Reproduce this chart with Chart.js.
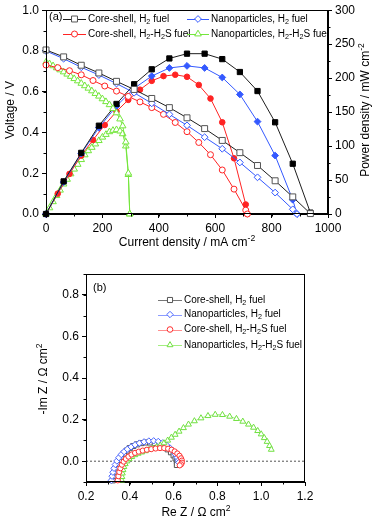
<!doctype html>
<html lang="en">
<head>
  <meta charset="utf-8">
  <title>Fuel cell performance and impedance</title>
  <script src="https://cdn.jsdelivr.net/npm/chart.js@4.4.0/dist/chart.umd.min.js"></script>
  <style>
    html, body { margin: 0; padding: 0; background: #fff; }
    #wrap { position: relative; width: 376px; height: 520px; }
    canvas { position: absolute; left: 0; }
    #perfChart { top: 0; }
    #eisChart { top: 255px; }
  </style>
</head>
<body>
  <div id="wrap">
    <canvas id="perfChart" width="376" height="255"></canvas>
    <canvas id="eisChart" width="376" height="265"></canvas>
  </div>

  <script>
    // ---- panel (a): I-V and power density curves ----
    var csH2Current = [0, 62.5, 125, 187.5, 250, 312.5, 375, 437.5, 500, 562.5, 625, 687.5, 750, 812.5, 875, 937.5];
    var csH2Voltage = [0.805, 0.771, 0.730, 0.692, 0.651, 0.611, 0.567, 0.522, 0.472, 0.419, 0.361, 0.301, 0.238, 0.163, 0.084, 0.002];
    var csH2Power = [0, 48, 90, 130, 162, 191, 213, 229, 236, 236, 228, 209, 181, 135, 74, 2];

    var npH2Current = [0, 62.5, 125, 187.5, 250, 312.5, 375, 437.5, 500, 562.5, 625, 687.5, 750, 812.5, 875, 890];
    var npH2Voltage = [0.800, 0.762, 0.720, 0.682, 0.640, 0.595, 0.543, 0.489, 0.435, 0.377, 0.320, 0.253, 0.180, 0.105, 0.023, 0];
    var npH2Power = [0, 47, 89, 127, 159, 185, 203, 215, 218, 215, 201, 176, 136, 86, 21, 0];

    var csH2SCurrent = [0, 41.7, 83.3, 125, 166.7, 208.3, 250, 291.7, 333.3, 375, 416.7, 458.3, 500, 541.7, 583.3, 625, 666.7, 708.3, 714];
    var csH2SVoltage = [0.731, 0.718, 0.703, 0.683, 0.655, 0.628, 0.603, 0.577, 0.550, 0.522, 0.489, 0.449, 0.404, 0.351, 0.291, 0.216, 0.122, 0.019, 0];
    var csH2SPower = [0, 30, 59, 86, 109, 131, 151, 168, 183, 196, 203, 205, 202, 190, 170, 135, 82, 14, 0];

    var npH2SCurrent = [0, 12.5, 25, 37.5, 50, 62.5, 75, 87.5, 100, 112.5, 125, 137.5, 150, 162.5, 175, 187.5, 200, 212.5, 225, 237.5, 250, 262.5, 272, 283, 292, 297];
    var npH2SVoltage = [0.745, 0.737, 0.727, 0.717, 0.707, 0.697, 0.686, 0.675, 0.664, 0.653, 0.641, 0.629, 0.617, 0.604, 0.591, 0.578, 0.565, 0.551, 0.536, 0.517, 0.496, 0.466, 0.432, 0.353, 0.200, 0];
    var npH2SPower = [0, 9, 18, 27, 35, 44, 51, 59, 66, 73, 80, 87, 93, 98, 103, 108, 113, 117, 121, 123, 124, 122, 118, 100, 58, 0];

    var currentTicks = [0, 200, 400, 600, 800, 1000];
    var voltageTicks = [0, 0.2, 0.4, 0.6, 0.8, 1.0];
    var powerTicks = [0, 50, 100, 150, 200, 250, 300];

    // ---- panel (b): impedance spectra ----
    var csH2Re = [0.322, 0.326, 0.331, 0.337, 0.344, 0.352, 0.362, 0.373, 0.386, 0.400, 0.416, 0.433, 0.452, 0.472, 0.493, 0.514, 0.535, 0.555, 0.573, 0.588, 0.600, 0.609, 0.615, 0.617, 0.615];
    var csH2Im = [-0.092, -0.070, -0.050, -0.030, -0.012, 0.005, 0.022, 0.037, 0.051, 0.063, 0.073, 0.081, 0.087, 0.090, 0.090, 0.087, 0.080, 0.070, 0.057, 0.043, 0.028, 0.013, 0.000, -0.010, -0.018];

    var npH2Re = [0.316, 0.319, 0.323, 0.328, 0.334, 0.341, 0.350, 0.361, 0.374, 0.389, 0.406, 0.424, 0.444, 0.465, 0.487, 0.509, 0.530, 0.550, 0.568, 0.584, 0.598, 0.609, 0.617, 0.622, 0.624];
    var npH2Im = [-0.092, -0.072, -0.053, -0.034, -0.016, 0.001, 0.017, 0.032, 0.046, 0.058, 0.069, 0.079, 0.087, 0.093, 0.097, 0.098, 0.095, 0.088, 0.077, 0.063, 0.048, 0.032, 0.017, 0.004, -0.006];

    var csH2SRe = [0.345, 0.348, 0.352, 0.357, 0.364, 0.372, 0.382, 0.394, 0.408, 0.424, 0.441, 0.459, 0.478, 0.498, 0.518, 0.538, 0.557, 0.575, 0.591, 0.605, 0.617, 0.627, 0.634, 0.638, 0.638, 0.634, 0.628];
    var csH2SIm = [-0.092, -0.072, -0.052, -0.034, -0.017, -0.002, 0.011, 0.022, 0.032, 0.040, 0.046, 0.051, 0.055, 0.058, 0.061, 0.063, 0.063, 0.060, 0.055, 0.047, 0.037, 0.026, 0.014, 0.003, -0.007, -0.015, -0.020];

    var npH2SRe = [0.363, 0.364, 0.366, 0.369, 0.373, 0.379, 0.387, 0.397, 0.409, 0.423, 0.438, 0.454, 0.471, 0.488, 0.505, 0.522, 0.539, 0.556, 0.573, 0.590, 0.607, 0.625, 0.645, 0.668, 0.695, 0.725, 0.757, 0.790, 0.823, 0.856, 0.887, 0.916, 0.942, 0.965, 0.984, 1.000, 1.014, 1.027, 1.038, 1.046];
    var npH2SIm = [-0.092, -0.075, -0.058, -0.042, -0.027, -0.013, 0.000, 0.011, 0.021, 0.030, 0.037, 0.043, 0.049, 0.055, 0.061, 0.068, 0.076, 0.087, 0.100, 0.114, 0.128, 0.143, 0.160, 0.177, 0.193, 0.207, 0.218, 0.224, 0.223, 0.215, 0.204, 0.191, 0.177, 0.162, 0.146, 0.130, 0.112, 0.094, 0.074, 0.056];

    var zeroLineRe = [0.2, 1.2];
    var reTicks = [0.2, 0.4, 0.6, 0.8, 1.0, 1.2];
    var imTicks = [0, 0.2, 0.4, 0.6, 0.8];

    var FONT = '"Liberation Sans", Arial, Helvetica, sans-serif';

    // legend / title texts with sub- and superscripts
    var LBL = {
      csH2: [['Core-shell, H'], ['2', 'sub'], [' fuel']],
      npH2: [['Nanoparticles, H'], ['2', 'sub'], [' fuel']],
      csH2S: [['Core-shell, H'], ['2', 'sub'], ['-H'], ['2', 'sub'], ['S fuel']],
      npH2S: [['Nanoparticles, H'], ['2', 'sub'], ['-H'], ['2', 'sub'], ['S fuel']]
    };

    function pts(xs, ys) {
      return xs.map(function (x, i) { return { x: x, y: ys[i] }; });
    }

    function drawRich(ctx, parts, x, y, size, align) {
      var w = 0;
      parts.forEach(function (p) {
        ctx.font = (p[1] ? size * 0.72 : size) + 'px ' + FONT;
        w += ctx.measureText(p[0]).width;
      });
      var cx = align === 'center' ? x - w / 2 : x;
      ctx.textAlign = 'left';
      ctx.textBaseline = 'middle';
      parts.forEach(function (p) {
        var s = p[1] ? size * 0.72 : size;
        var dy = p[1] === 'sub' ? size * 0.3 : (p[1] === 'sup' ? -size * 0.38 : 0);
        ctx.font = s + 'px ' + FONT;
        ctx.fillText(p[0], cx, y + dy);
        cx += ctx.measureText(p[0]).width;
      });
    }

    function marker(ctx, style, x, y, r) {
      ctx.beginPath();
      if (style === 'rect') {
        var h = r * Math.SQRT1_2;
        ctx.rect(x - h, y - h, 2 * h, 2 * h);
      } else if (style === 'rectRot') {
        ctx.moveTo(x, y - r); ctx.lineTo(x + r, y); ctx.lineTo(x, y + r); ctx.lineTo(x - r, y); ctx.closePath();
      } else if (style === 'triangle') {
        ctx.moveTo(x, y - r); ctx.lineTo(x + r * 0.866, y + r / 2); ctx.lineTo(x - r * 0.866, y + r / 2); ctx.closePath();
      } else {
        ctx.arc(x, y, r, 0, Math.PI * 2);
      }
      ctx.fill();
      ctx.stroke();
    }

    // frame, minor ticks, axis titles and the hand-made legend
    var decor = {
      id: 'decor',
      afterDatasetsDraw: function (chart, args, o) {
        var ctx = chart.ctx, a = chart.chartArea;
        ctx.save();
        ctx.strokeStyle = '#000';
        ctx.lineWidth = 1;
        ctx.strokeRect(Math.round(a.left) + 0.5, Math.round(a.top) + 0.5,
          Math.round(a.right - a.left) - 1, Math.round(a.bottom - a.top) - 1);

        (o.minor || []).forEach(function (m) {
          var s = chart.scales[m.axis];
          ctx.beginPath();
          for (var i = 0; ; i++) {
            var v = m.from + i * m.step;
            if (v > s.max + 1e-9) break;
            var p = Math.round(s.getPixelForValue(v)) + 0.5;
            if (m.side === 'bottom') { ctx.moveTo(p, a.bottom); ctx.lineTo(p, a.bottom + 2.5); }
            else if (m.side === 'left') { ctx.moveTo(a.left, p); ctx.lineTo(a.left - 2.5, p); }
            else { ctx.moveTo(a.right, p); ctx.lineTo(a.right + 2.5, p); }
          }
          ctx.stroke();
        });

        ctx.fillStyle = '#000';
        (o.titles || []).forEach(function (t) {
          ctx.save();
          ctx.translate(t.x, t.y);
          if (t.rotate) ctx.rotate(-Math.PI / 2);
          drawRich(ctx, t.parts, 0, 0, t.size, t.align || 'center');
          ctx.restore();
        });

        (o.legend || []).forEach(function (it) {
          ctx.strokeStyle = it.line;
          ctx.beginPath();
          ctx.moveTo(it.x, Math.round(it.y) + 0.5);
          ctx.lineTo(it.x + it.w, Math.round(it.y) + 0.5);
          ctx.stroke();
          ctx.fillStyle = '#fff';
          ctx.strokeStyle = it.color;
          marker(ctx, it.style, it.x + it.w / 2, it.y, it.r);
          ctx.fillStyle = '#000';
          drawRich(ctx, it.parts, it.x + it.w + 2, it.y, it.size, 'left');
        });
        ctx.restore();
      }
    };

    function axis(values, digits, extra) {
      var cfg = {
        type: 'linear',
        afterBuildTicks: function (s) { s.ticks = values.map(function (v) { return { value: v }; }); },
        grid: { drawOnChartArea: false, tickLength: 4, color: '#000' },
        border: { color: '#000' },
        ticks: {
          font: { family: FONT, size: 12 },
          color: '#000',
          padding: 3,
          autoSkip: false,
          maxRotation: 0,
          callback: function (v) { return digits == null ? String(v) : Number(v).toFixed(digits); }
        }
      };
      return Object.assign(cfg, extra);
    }

    var BLACK = '#1e1e1e', GREY = '#555555', BLUE = '#3459ff', RED = '#ff2323', GREEN = '#74e63c';

    function series(label, xs, ys, axisId, color, line, style, r, filled) {
      return {
        label: label,
        data: pts(xs, ys),
        yAxisID: axisId,
        showLine: true,
        borderColor: line,
        borderWidth: 1,
        pointStyle: style,
        pointRadius: r,
        pointBorderWidth: 1,
        pointBorderColor: color,
        pointBackgroundColor: filled ? color : '#fff',
        clip: false
      };
    }

    // ---- chart (a) ----
    new Chart(document.getElementById('perfChart'), {
      type: 'scatter',
      data: {
        datasets: [
          series('Core-shell, H₂ fuel', csH2Current, csH2Voltage, 'y', GREY, BLACK, 'rect', 4.2, false),
          series('Nanoparticles, H₂ fuel', npH2Current, npH2Voltage, 'y', BLUE, BLUE, 'rectRot', 3.4, false),
          series('Core-shell, H₂-H₂S fuel', csH2SCurrent, csH2SVoltage, 'y', RED, RED, 'circle', 3, false),
          series('Nanoparticles, H₂-H₂S fuel', npH2SCurrent, npH2SVoltage, 'y', GREEN, GREEN, 'triangle', 3.8, false),
          series('Core-shell, H₂ fuel (power)', csH2Current, csH2Power, 'y1', '#000', BLACK, 'rect', 3.7, true),
          series('Nanoparticles, H₂ fuel (power)', npH2Current, npH2Power, 'y1', BLUE, BLUE, 'rectRot', 3.4, true),
          series('Core-shell, H₂-H₂S fuel (power)', csH2SCurrent, csH2SPower, 'y1', RED, RED, 'circle', 2.8, true),
          series('Nanoparticles, H₂-H₂S fuel (power)', npH2SCurrent, npH2SPower, 'y1', GREEN, GREEN, 'triangle', 3.8, false)
        ]
      },
      options: {
        responsive: false,
        animation: false,
        layout: { padding: { top: 7, left: 0, right: 0, bottom: 0 } },
        scales: {
          x: axis(currentTicks, null, { min: 0, max: 1000, afterFit: function (s) { s.height = 41; } }),
          y: axis(voltageTicks, 1, { position: 'left', min: 0, max: 1, afterFit: function (s) { s.width = 46; } }),
          y1: axis(powerTicks, null, { position: 'right', min: 0, max: 300, afterFit: function (s) { s.width = 48; } })
        },
        plugins: {
          legend: { display: false },
          tooltip: { enabled: false },
          decor: {
            minor: [
              { axis: 'x', from: 0, step: 100, side: 'bottom' },
              { axis: 'y', from: 0, step: 0.1, side: 'left' },
              { axis: 'y1', from: 0, step: 25, side: 'right' }
            ],
            titles: [
              { parts: [['Current density / mA cm'], ['-2', 'sup']], x: 187, y: 243, size: 12 },
              { parts: [['Voltage / V']], x: 11, y: 110, size: 12, rotate: true },
              { parts: [['Power density / mW cm'], ['-2', 'sup']], x: 366, y: 110, size: 12, rotate: true },
              { parts: [['(a)']], x: 49, y: 17, size: 11, align: 'left' }
            ],
            legend: [
              { parts: LBL.csH2, x: 63, y: 19, w: 23, line: BLACK, color: GREY, style: 'rect', r: 4.2, size: 10 },
              { parts: LBL.npH2, x: 187, y: 19, w: 22, line: BLUE, color: BLUE, style: 'rectRot', r: 3.4, size: 10 },
              { parts: LBL.csH2S, x: 63, y: 34, w: 23, line: RED, color: RED, style: 'circle', r: 3, size: 10 },
              { parts: LBL.npH2S, x: 187, y: 34, w: 22, line: GREEN, color: GREEN, style: 'triangle', r: 3.8, size: 10 }
            ]
          }
        }
      },
      plugins: [decor]
    });

    // ---- chart (b) ----
    function eis(label, xs, ys, color, line, style, r, order) {
      var d = series(label, xs, ys, 'y', color, line, style, r, false);
      d.order = order;
      return d;
    }

    new Chart(document.getElementById('eisChart'), {
      type: 'scatter',
      data: {
        datasets: [
          {
            label: 'zero', data: pts(zeroLineRe, [0, 0]), showLine: true, borderColor: '#555',
            borderWidth: 1, borderDash: [2, 2], pointRadius: 0, order: 9
          },
          eis('Core-shell, H₂ fuel', csH2Re, csH2Im, '#555555', '#8a8a8a', 'rect', 3.6, 4),
          eis('Nanoparticles, H₂ fuel', npH2Re, npH2Im, '#4a66ff', '#8c9cff', 'rectRot', 3.2, 3),
          eis('Core-shell, H₂-H₂S fuel', csH2SRe, csH2SIm, '#ff3030', '#ff8f8f', 'circle', 2.6, 1),
          eis('Nanoparticles, H₂-H₂S fuel', npH2SRe, npH2SIm, '#70e040', '#a4ee80', 'triangle', 3.4, 2)
        ]
      },
      options: {
        responsive: false,
        animation: false,
        layout: { padding: { top: 19, left: 0, right: 71, bottom: 0 } },
        scales: {
          x: axis(reTicks, 1, { min: 0.2, max: 1.2, afterFit: function (s) { s.height = 38; } }),
          y: axis(imTicks, 1, { position: 'left', min: -0.1, max: 0.9, afterFit: function (s) { s.width = 86; } })
        },
        plugins: {
          legend: { display: false },
          tooltip: { enabled: false },
          decor: {
            minor: [
              { axis: 'x', from: 0.2, step: 0.1, side: 'bottom' },
              { axis: 'y', from: -0.1, step: 0.1, side: 'left' }
            ],
            titles: [
              { parts: [['Re Z / Ω cm'], ['2', 'sup']], x: 196, y: 258, size: 12 },
              { parts: [['-Im Z / Ω cm'], ['2', 'sup']], x: 44, y: 124, size: 12, rotate: true },
              { parts: [['(b)']], x: 93, y: 33, size: 11, align: 'left' }
            ],
            legend: [
              { parts: LBL.csH2, x: 158, y: 45, w: 24, line: '#777', color: '#555', style: 'rect', r: 3.6, size: 10 },
              { parts: LBL.npH2, x: 158, y: 59.5, w: 24, line: '#8c9cff', color: '#4a66ff', style: 'rectRot', r: 3.2, size: 10 },
              { parts: LBL.csH2S, x: 158, y: 74.5, w: 24, line: '#ff8f8f', color: '#ff3030', style: 'circle', r: 2.8, size: 10 },
              { parts: LBL.npH2S, x: 158, y: 90, w: 24, line: '#a4ee80', color: '#70e040', style: 'triangle', r: 3.4, size: 10 }
            ]
          }
        }
      },
      plugins: [decor]
    });
  </script>
</body>
</html>
